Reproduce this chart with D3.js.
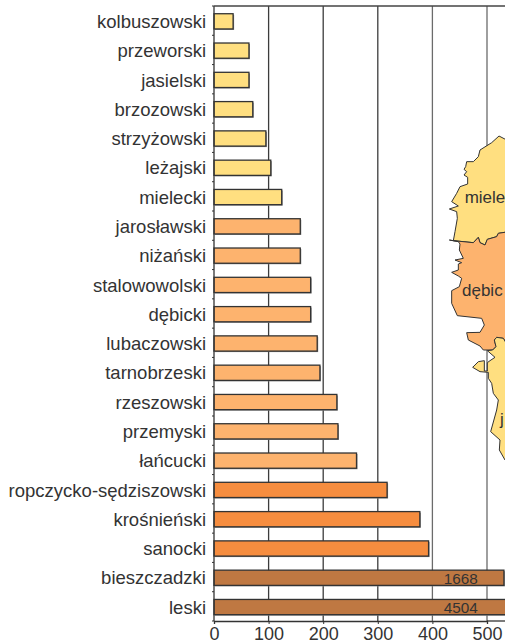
<!DOCTYPE html>
<html><head><meta charset="utf-8">
<script src="https://cdn.jsdelivr.net/npm/d3@7/dist/d3.min.js"></script>
<style>html,body{margin:0;padding:0;background:#fff;overflow:hidden}svg{display:block}text{font-family:"Liberation Sans",Arial,sans-serif;fill:#333}</style>
</head><body><svg id="c" width="505" height="644"></svg>
<script>
const categories=["kolbuszowski","przeworski","jasielski","brzozowski","strzyżowski","leżajski","mielecki","jarosławski","niżański","stalowowolski","dębicki","lubaczowski","tarnobrzeski","rzeszowski","przemyski","łańcucki","ropczycko-sędziszowski","krośnieński","sanocki","bieszczadzki","leski"];
const values=[35,64,64,71,95,104,124,158,158,177,177,189,194,225,227,261,317,377,393,1668,4504];
const classes=[0,0,0,0,0,0,0,1,1,1,1,1,1,1,1,1,2,2,2,3,3];
const classColors=["#FFDF80","#FDB36E","#F68D3F","#BF7842"];
const xTicks=[0,100,200,300,400,500];
const brokenBarEnd=[531,560];
const mapMielecki=[[320,60],[297,48],[275,68],[240,90],[235,110],[220,125],[200,125],[197,140],[192,148],[200,155],[192,165],[203,172],[203,192],[180,200],[170,220],[155,245],[175,258],[148,267],[170,275],[172,295],[165,335],[160,362],[220,368],[235,352],[240,368],[255,375],[262,358],[290,350],[295,340],[320,336]];
const mapDebicki=[[148,360],[175,365],[180,372],[178,390],[190,415],[165,420],[185,428],[175,432],[175,450],[155,457],[175,468],[185,475],[178,500],[155,512],[155,550],[172,587],[245,595],[253,615],[240,637],[200,638],[205,660],[240,678],[250,690],[278,690],[288,680],[283,660],[290,652],[310,655],[320,672],[320,336],[295,340],[290,350],[262,358],[255,375],[240,368],[235,352],[220,368],[160,362]];
const mapJasielski=[[320,672],[310,655],[290,652],[283,660],[288,680],[278,690],[262,692],[285,712],[270,722],[262,728],[262,753],[253,753],[253,722],[235,725],[218,742],[240,755],[265,757],[265,775],[275,790],[280,820],[295,840],[290,870],[272,935],[300,960],[298,990],[315,1020],[320,1022]];
const mapLabels=[["miele",194,248],["dębic",186,527],["j",300,915]];

const svg=d3.select("#c");
const plotLeft=214,plotRight=487,plotTop=6,plotBottom=621;
const x=d3.scaleLinear().domain([0,500]).range([plotLeft,plotRight]);
const y=d3.scaleBand().domain(categories).range([plotTop+0.7,plotBottom+0.7]).paddingInner(0.48).paddingOuter(0.24);
const mapX=d3.scaleLinear().domain([0,3]).range([400,401]);
const mapY=d3.scaleLinear().domain([0,3]).range([120,121]);
const line=d3.line().x(d=>mapX(d[0])).y(d=>mapY(d[1])).curve(d3.curveLinearClosed);

const grid=svg.append("g");
grid.selectAll("line").data(xTicks.slice(1)).join("line")
 .attr("x1",d=>x(d)).attr("x2",d=>x(d)).attr("y1",plotTop).attr("y2",plotBottom)
 .attr("stroke",d=>d>=400?"#6b6b6b":"#3c3c3c").attr("stroke-width",1.3);

[[mapMielecki,0],[mapDebicki,1],[mapJasielski,0]].forEach(([p,c])=>{
 svg.append("path").attr("d",line(p)).attr("fill",classColors[c]).attr("stroke","#333").attr("stroke-width",1).attr("stroke-linejoin","round");
});
svg.append("g").selectAll("text").data(mapLabels).join("text")
 .attr("x",d=>mapX(d[1])).attr("y",d=>mapY(d[2])).attr("font-size",17).text(d=>d[0]);

const barW=(d,i)=>{const v=values[i];return x(v>500?brokenBarEnd[v>2000?1:0]:v)-plotLeft;};
const bars=svg.append("g");
bars.selectAll("rect.s").data(categories).join("rect").attr("class","s")
 .attr("x",plotLeft+1).attr("y",d=>y(d)+1).attr("width",(d,i)=>barW(d,i)).attr("height",y.bandwidth())
 .attr("fill","#8a8a8a");
bars.selectAll("rect.b").data(categories).join("rect").attr("class","b")
 .attr("x",plotLeft).attr("y",d=>y(d)).attr("width",(d,i)=>barW(d,i)).attr("height",y.bandwidth())
 .attr("fill",(d,i)=>classColors[classes[i]]).attr("stroke","#333").attr("stroke-width",1.3);

svg.append("g").selectAll("text").data(categories.filter((d,i)=>values[i]>500)).join("text")
 .attr("x",x(450)+1).attr("y",d=>y(d)+y.bandwidth()-1.5).attr("text-anchor","middle").attr("font-size",15.3)
 .text(d=>values[categories.indexOf(d)]);

svg.append("g").selectAll("text").data(categories).join("text")
 .attr("x",206).attr("y",d=>y(d)+y.bandwidth()/2+6.7).attr("text-anchor","end").attr("font-size",18.5).text(d=>d);

const ya=svg.append("g");
ya.append("line").attr("x1",plotLeft).attr("x2",plotLeft).attr("y1",plotTop).attr("y2",plotBottom).attr("stroke","#333").attr("stroke-width",1.3);
ya.selectAll("line.t").data(d3.range(categories.length+1)).join("line").attr("class","t")
 .attr("x1",plotLeft-2).attr("x2",plotLeft).attr("y1",i=>plotTop+i*y.step()).attr("y2",i=>plotTop+i*y.step()).attr("stroke","#333");
svg.append("line").attr("x1",plotLeft).attr("x2",505).attr("y1",plotTop).attr("y2",plotTop).attr("stroke","#444").attr("stroke-width",1.3);

const xa=svg.append("g").attr("transform",`translate(0,${plotBottom})`)
 .call(d3.axisBottom(x).tickValues(xTicks).tickSize(3).tickPadding(3));
xa.select(".domain").attr("stroke","#333").attr("stroke-width",1.3);
xa.selectAll("line").attr("stroke","#333");
xa.selectAll("text").attr("font-size",18).attr("font-family",'"Liberation Sans",Arial,sans-serif').attr("fill","#333");
svg.append("line").attr("x1",plotRight).attr("x2",505).attr("y1",plotBottom).attr("y2",plotBottom).attr("stroke","#333").attr("stroke-width",1.3);
</script></body></html>
